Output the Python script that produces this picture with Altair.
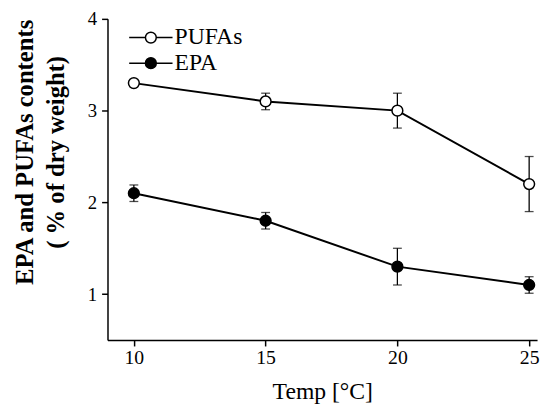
import altair as alt
import pandas as pd

temps = [10, 15, 20, 25]
pufas = [3.3, 3.1, 3.0, 2.2]
pufas_err = [0.03, 0.09, 0.19, 0.3]
epa = [2.1, 1.8, 1.3, 1.1]
epa_err = [0.09, 0.09, 0.2, 0.09]
series = ["PUFAs", "EPA"]

rows = []
for s, vals, errs in [("PUFAs", pufas, pufas_err), ("EPA", epa, epa_err)]:
    for t, v, e in zip(temps, vals, errs):
        rows.append({"temp": t, "value": v, "lo": v - e, "hi": v + e, "series": s})
df = pd.DataFrame(rows)

FONT = "Liberation Serif"

x = alt.X("temp:Q", scale=alt.Scale(domain=[9, 25.3], nice=False, zero=False),
          axis=alt.Axis(values=[10, 15, 20, 25], title="Temp [°C]", grid=False,
                        labelFontSize=20, titleFontSize=24, titleFontWeight="normal",
                        tickSize=6, labelPadding=2, titlePadding=12))
y = alt.Y("value:Q", scale=alt.Scale(domain=[0.5, 4], nice=False, zero=False),
          axis=alt.Axis(values=[1, 2, 3, 4], format="d", title=["EPA and PUFAs contents", "( % of dry weight)"],
                        grid=False, labelFontSize=19, titleFontSize=25, titleFontWeight="bold",
                        tickSize=6, labelPadding=5, titleLineHeight=31,
                        titleX=-71, titleY=135, titleBaseline="bottom"))

base = alt.Chart(df)

lines = base.mark_line(color="black", strokeWidth=2).encode(x=x, y=y, detail="series:N")
err = base.mark_rule(color="black", strokeWidth=1.3).encode(x="temp:Q", y="lo:Q", y2="hi:Q")
cap_lo = base.mark_tick(color="black", orient="horizontal", size=9, thickness=1.3).encode(x="temp:Q", y="lo:Q")
cap_hi = base.mark_tick(color="black", orient="horizontal", size=9, thickness=1.3).encode(x="temp:Q", y="hi:Q")

sym = "M-3,0L-0.75,0 M0.75,0L3,0 M-0.75,0A0.75,0.75 0 1,1 0.75,0A0.75,0.75 0 1,1 -0.75,0Z"
points = base.mark_point(filled=True, size=120, stroke="black", strokeWidth=1.5, opacity=1).encode(
    x="temp:Q", y="value:Q",
    fill=alt.Fill("series:N", scale=alt.Scale(domain=series, range=["white", "black"]),
                  legend=alt.Legend(title=None, orient="none", legendX=32, legendY=7,
                                    symbolType=sym, symbolSize=215, symbolStrokeColor="black",
                                    symbolStrokeWidth=1.5, labelFontSize=24, labelFont=FONT,
                                    labelOffset=12, rowPadding=2, labelColor="black")),
)

chart = alt.layer(lines, err, cap_lo, cap_hi, points).properties(
    width=436, height=326,
    autosize=alt.AutoSizeParams(type="none"),
    padding={"left": 101, "top": 8, "right": 4, "bottom": 70},
).configure(font=FONT).configure_axis(
    domainColor="black", tickColor="black", labelColor="black", titleColor="black",
    domainWidth=1.5, tickWidth=1.5, labelFont=FONT, titleFont=FONT,
).configure_view(stroke=None)

chart.save("out.html", embed_options={"renderer": "svg", "actions": False})
